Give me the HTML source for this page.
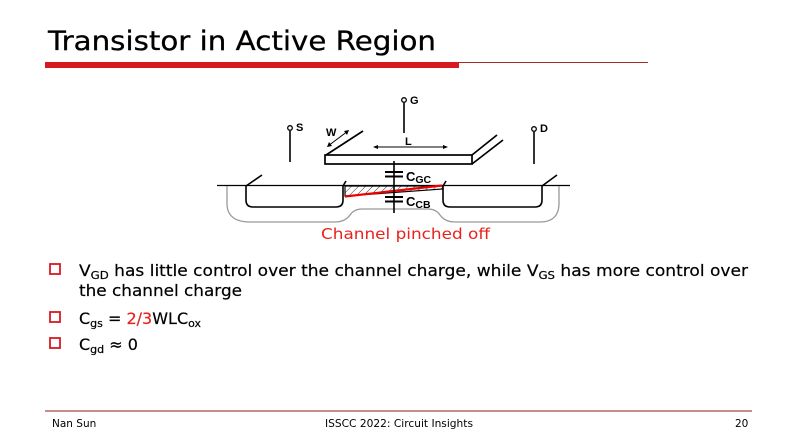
<!DOCTYPE html>
<html><head><meta charset="utf-8"><style>
html,body{margin:0;padding:0;background:#fff;}
svg{display:block;}
text{font-family:"DejaVu Sans","Liberation Sans",sans-serif;}
</style></head><body>
<svg width="811" height="446" viewBox="0 0 811 446" xmlns="http://www.w3.org/2000/svg">
<defs>
<pattern id="h" width="5" height="5" patternUnits="userSpaceOnUse" patternTransform="rotate(45)">
<line x1="0" y1="0" x2="0" y2="5" stroke="#000" stroke-width="0.8"/>
</pattern>
</defs>
<text x="48" y="50" font-size="27" fill="#000" stroke="#000" stroke-width="0.3" textLength="388" lengthAdjust="spacingAndGlyphs">Transistor in Active Region</text>
<rect x="45" y="62" width="414" height="6" fill="#d71920"/>
<line x1="459" y1="62.5" x2="648" y2="62.5" stroke="#a52a2a" stroke-width="1"/>

<g fill="none" stroke="#000" stroke-width="1.6">
<line x1="217" y1="185.5" x2="570" y2="185.5" stroke-width="1.3"/>
<path d="M227,186 L227,205 Q228,222 250,222 L335,222 Q345,222 350,215 Q354,209 362,209 L428,209 Q436,209 440,215 Q445,222 455,222 L540,222 Q558,222 559,205 L559,186" stroke="#999" stroke-width="1.3"/>
<path d="M246,186 L246,200 Q246,207 253,207 L336,207 Q343,207 343,200 L343,186"/>
<line x1="246" y1="186" x2="262" y2="175"/>
<line x1="343" y1="186" x2="346" y2="181"/>
<path d="M443,186 L443,200 Q443,207 450,207 L535,207 Q542,207 542,200 L542,186"/>
<line x1="542" y1="186" x2="557" y2="175"/>
<line x1="443" y1="186" x2="446" y2="181"/>
<polygon points="345,186 443,186 443,189 345,196" fill="url(#h)" stroke="#000" stroke-width="1.2"/>
<line x1="345" y1="196.5" x2="442" y2="185.5" stroke="#e00" stroke-width="2.2"/>
<rect x="325" y="155" width="147" height="9" stroke-width="1.7"/>
<line x1="326" y1="155" x2="363" y2="131" stroke-width="1.7"/>
<line x1="472" y1="155" x2="497" y2="135" stroke-width="1.7"/>
<line x1="472" y1="164" x2="503" y2="140" stroke-width="1.7"/>
<circle cx="404" cy="100" r="2.3" stroke-width="1.3"/><line x1="404" y1="103" x2="404" y2="133"/>
<circle cx="290" cy="128" r="2.3" stroke-width="1.3"/><line x1="290" y1="131" x2="290" y2="162"/>
<circle cx="534" cy="129" r="2.3" stroke-width="1.3"/><line x1="534" y1="132" x2="534" y2="164"/>
<line x1="394" y1="161" x2="394" y2="213"/>
<line x1="385" y1="172" x2="403" y2="172" stroke-width="2"/>
<line x1="385" y1="176.5" x2="403" y2="176.5" stroke-width="2"/>
<line x1="385" y1="197" x2="403" y2="197" stroke-width="2"/>
<line x1="385" y1="201.5" x2="403" y2="201.5" stroke-width="2"/>
<line x1="374" y1="147" x2="447" y2="147" stroke-width="1"/>
<line x1="328" y1="146" x2="348" y2="131" stroke-width="1"/>
</g>
<g fill="#000">
<polygon points="373,147 378,145 378,149"/>
<polygon points="448,147 443,145 443,149"/>
<polygon points="327,147 329,142 332,146"/>
<polygon points="349,130 344,131 347,135"/>
</g>
<g font-weight="bold" font-size="11" fill="#000">
<text x="410" y="104" style="font-family:'Liberation Sans',sans-serif">G</text>
<text x="296" y="131" style="font-family:'Liberation Sans',sans-serif">S</text>
<text x="540" y="132" style="font-family:'Liberation Sans',sans-serif">D</text>
<text x="326" y="136" style="font-family:'Liberation Sans',sans-serif">W</text>
<text x="405" y="145" style="font-family:'Liberation Sans',sans-serif">L</text>
<text x="406" y="181" font-size="13" style="font-family:'Liberation Sans',sans-serif">C<tspan font-size="10.5" dy="2">GC</tspan></text>
<text x="406" y="206" font-size="13" style="font-family:'Liberation Sans',sans-serif">C<tspan font-size="10.5" dy="2">CB</tspan></text>
</g>
<text x="321" y="239" font-size="15.5" fill="#e8221c" textLength="169" lengthAdjust="spacingAndGlyphs">Channel pinched off</text>

<g fill="none" stroke="#d71920" stroke-width="1.8">
<rect x="50" y="264" width="10" height="10"/>
<rect x="50" y="312" width="10" height="10"/>
<rect x="50" y="338" width="10" height="10"/>
</g>
<g font-size="16" fill="#000" stroke="#000" stroke-width="0.2">
<text x="79" y="276" textLength="669" lengthAdjust="spacingAndGlyphs">V<tspan font-size="11" dy="3">GD</tspan><tspan dy="-3"> has little control over the channel charge, while V</tspan><tspan font-size="11" dy="3">GS</tspan><tspan dy="-3"> has more control over</tspan></text>
<text x="79" y="296" textLength="163" lengthAdjust="spacingAndGlyphs">the channel charge</text>
<text x="79" y="324">C<tspan font-size="11" dy="3">gs</tspan><tspan dy="-3"> = </tspan><tspan fill="#e8221c" stroke="#e8221c">2/3</tspan>WLC<tspan font-size="11" dy="3">ox</tspan></text>
<text x="79" y="350">C<tspan font-size="11" dy="3">gd</tspan><tspan dy="-3"> ≈ 0</tspan></text>
</g>

<line x1="45" y1="411" x2="752" y2="411" stroke="#8b1a1a" stroke-width="1"/>
<g font-size="10.5" fill="#000">
<text x="52" y="427">Nan Sun</text>
<text x="325" y="427" textLength="148" lengthAdjust="spacingAndGlyphs">ISSCC 2022: Circuit Insights</text>
<text x="735" y="427">20</text>
</g>
</svg>
</body></html>
